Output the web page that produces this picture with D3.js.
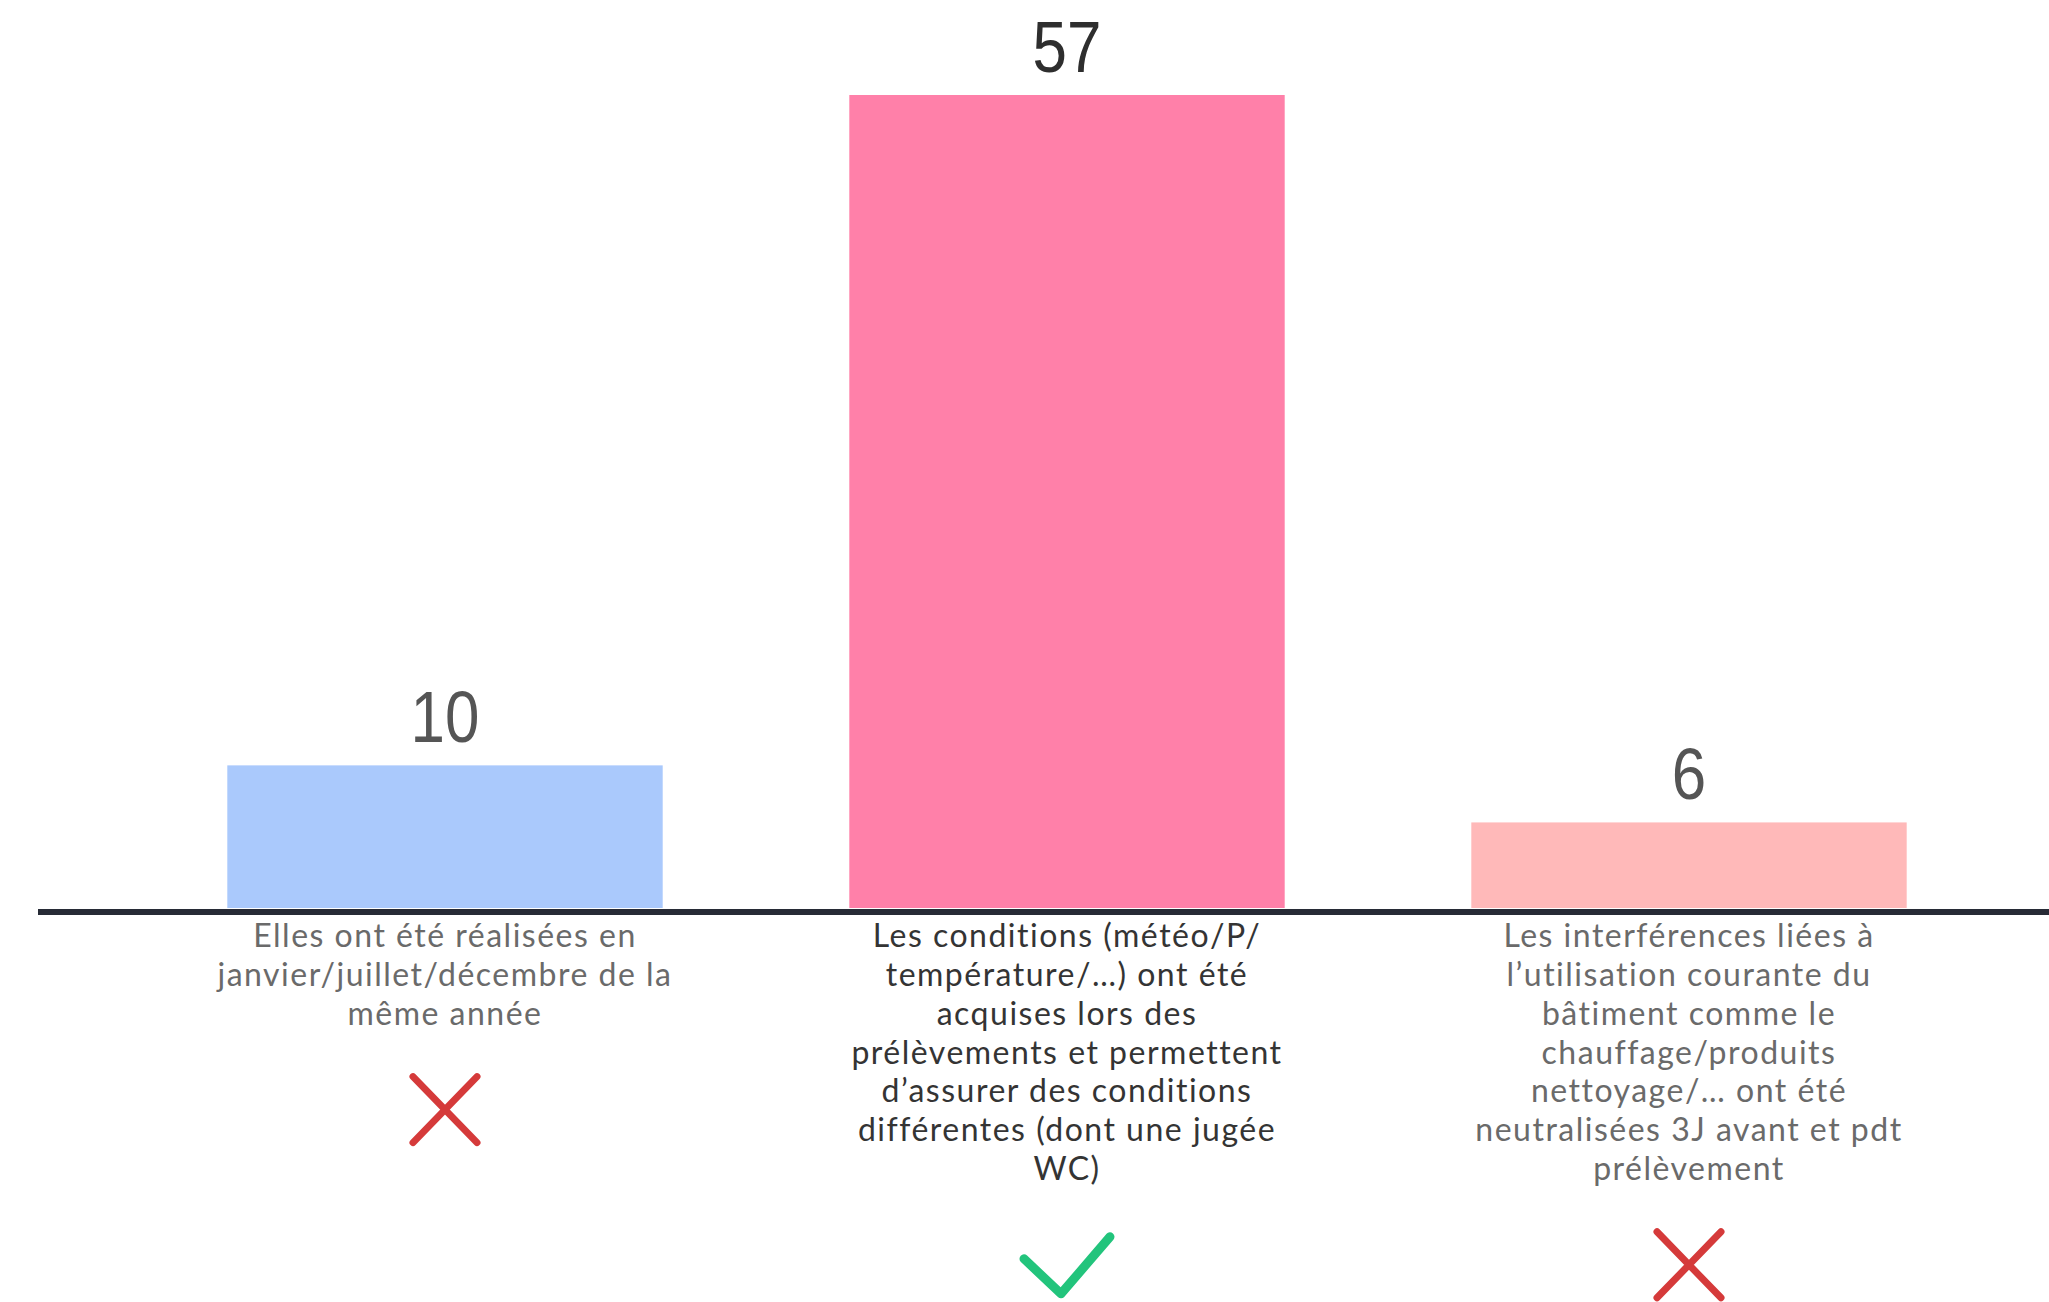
<!DOCTYPE html>
<html>
<head>
<meta charset="utf-8">
<script src="https://cdn.jsdelivr.net/npm/d3@7"></script>
<style>
  html, body { margin: 0; padding: 0; background: #ffffff; }
  svg { display: block; }
</style>
</head>
<body>
<svg id="chart" width="2049" height="1302"></svg>
<script>
// Survey answers: how many respondents judged each statement
const categories = ["janvier", "conditions", "interferences"];
const values = [10, 57, 6];
const labelLines = [
  ["Elles ont été réalisées en", "janvier/juillet/décembre de la", "même année"],
  ["Les conditions (météo/P/", "température/…) ont été", "acquises lors des",
   "prélèvements et permettent", "d’assurer des conditions",
   "différentes (dont une jugée", "WC)"],
  ["Les interférences liées à", "l’utilisation courante du", "bâtiment comme le",
   "chauffage/produits", "nettoyage/… ont été", "neutralisées 3J avant et pdt",
   "prélèvement"]
];
const verdicts = ["wrong", "right", "wrong"];

const barColors = ["#aac9fc", "#ff80a9", "#ffb9b9"];
const valueColors = ["#555555", "#2e2e2e", "#555555"];
const labelColors = ["#6a6a6a", "#343434", "#6a6a6a"];

const svg = d3.select("#chart");

const baseY = 908;
const x = d3.scaleBand()
  .domain(categories)
  .range([134, 2000])
  .paddingInner(0.3)
  .paddingOuter(0.15);

const y = d3.scaleLinear()
  .domain([0, 57])
  .range([baseY, 95]);

// bars
svg.append("g").selectAll("rect")
  .data(values)
  .join("rect")
  .attr("x", (d, i) => x(categories[i]))
  .attr("y", d => y(d))
  .attr("width", x.bandwidth())
  .attr("height", d => baseY - y(d))
  .attr("fill", (d, i) => barColors[i]);

// value labels above the bars, horizontally condensed
svg.append("g").selectAll("text")
  .data(values)
  .join("text")
  .attr("transform", (d, i) => {
    const cx = x(categories[i]) + x.bandwidth() / 2;
    return `translate(${cx},${y(d) - 23}) scale(0.86,1)`;
  })
  .attr("text-anchor", "middle")
  .attr("font-family", "'Liberation Sans', Arial, sans-serif")
  .attr("font-size", 72)
  .attr("fill", (d, i) => valueColors[i])
  .text(d => d);

// baseline
svg.append("line")
  .attr("x1", 38).attr("x2", 2049)
  .attr("y1", baseY + 4).attr("y2", baseY + 4)
  .attr("stroke", "#272b36")
  .attr("stroke-width", 6);

// category labels (pre-wrapped lines)
const lineGap = 38.8;
const firstLineY = 936;
const labelFont = 32;
const labels = svg.append("g");
labelLines.forEach((lines, i) => {
  const cx = x(categories[i]) + x.bandwidth() / 2;
  lines.forEach((ln, j) => {
    labels.append("text")
      .attr("x", cx)
      .attr("y", firstLineY + j * lineGap)
      .attr("dy", "0.35em")
      .attr("text-anchor", "middle")
      .attr("font-family", "Lato, 'Open Sans', sans-serif")
      .attr("font-size", labelFont)
      .attr("letter-spacing", 1.5)
      .attr("fill", labelColors[i])
      .text(ln);
  });
});

// verdict icons below each label
const icons = svg.append("g");
verdicts.forEach((v, i) => {
  const cx = x(categories[i]) + x.bandwidth() / 2;
  const cy = firstLineY + (labelLines[i].length - 1) * lineGap + 96;
  const g = icons.append("g").attr("transform", `translate(${cx},${cy})`);
  if (v === "wrong") {
    g.append("path")
      .attr("d", "M-32,-33L32,33M32,-33L-32,33")
      .attr("stroke", "#d53a3a")
      .attr("stroke-width", 7)
      .attr("stroke-linecap", "round")
      .attr("fill", "none");
  } else {
    g.append("path")
      .attr("d", "M-43,-6L-6,29L43,-28")
      .attr("stroke", "#22c47c")
      .attr("stroke-width", 9)
      .attr("stroke-linecap", "round")
      .attr("stroke-linejoin", "round")
      .attr("fill", "none");
  }
});
</script>
</body>
</html>
